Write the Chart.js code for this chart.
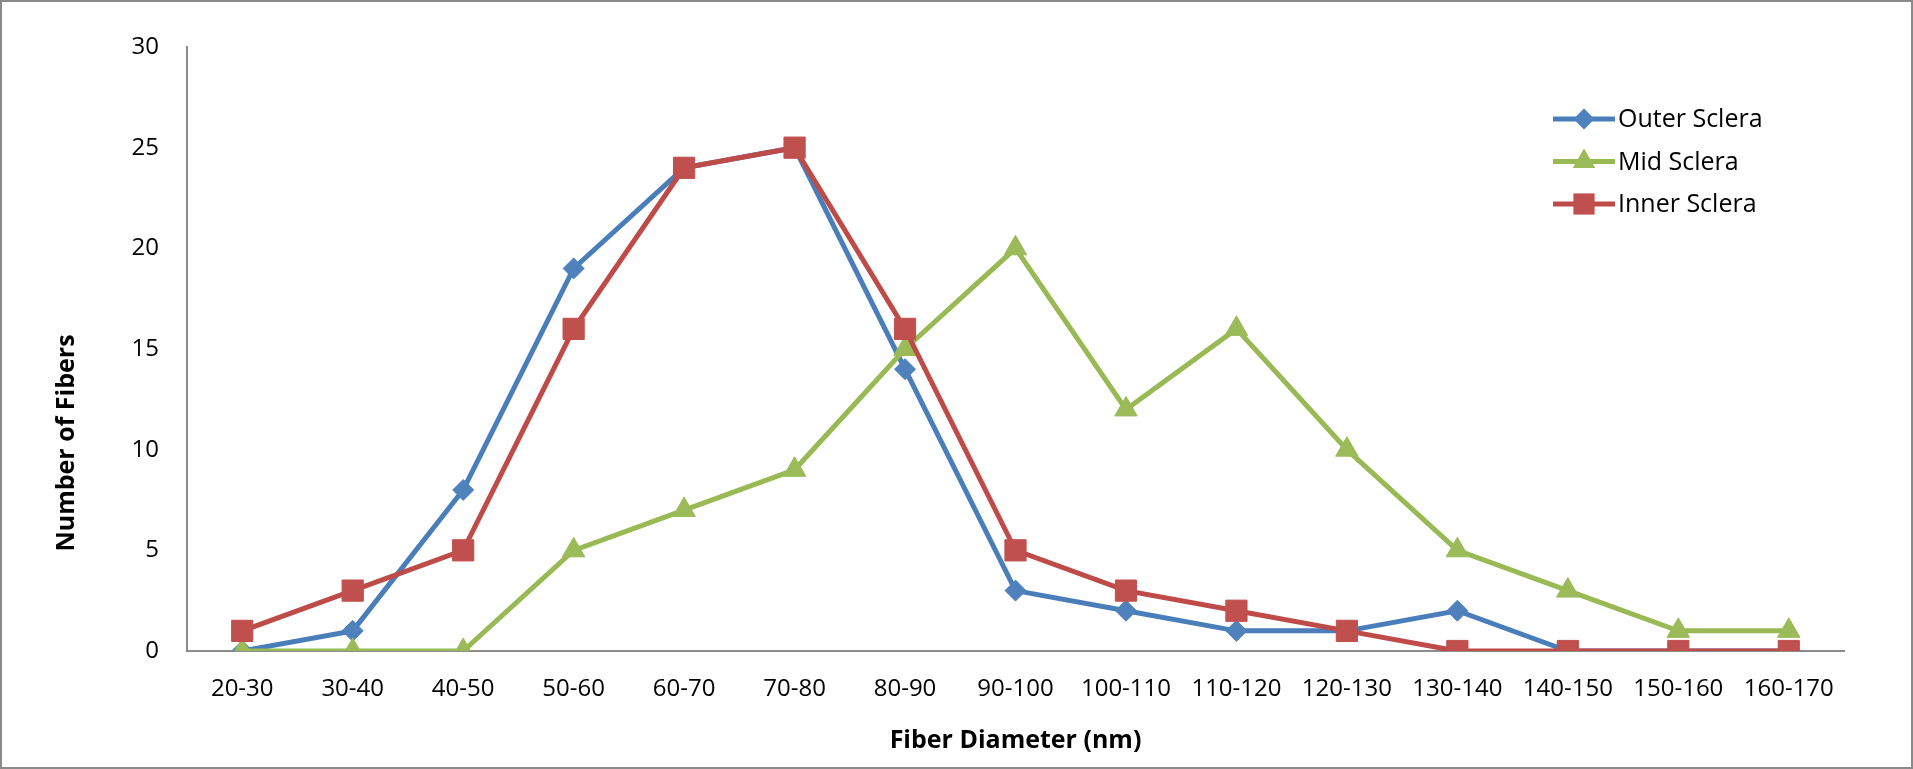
<!DOCTYPE html>
<html>
<head>
<meta charset="utf-8">
<script src="https://cdn.jsdelivr.net/npm/chart.js@4/dist/chart.umd.min.js"></script>
<style>
  html, body { margin: 0; padding: 0; background: #fff; }
  .frame {
    width: 1913px;
    height: 769px;
    box-sizing: border-box;
    border: 2px solid #8a8a8a;
    background: #fff;
  }
  .frame canvas { display: block; }
</style>
</head>
<body>
<div class="frame">
  <canvas id="fibers" width="1909" height="765"></canvas>
</div>
<script>
"use strict";

const diameterBins = [
  "20-30", "30-40", "40-50", "50-60", "60-70", "70-80", "80-90", "90-100",
  "100-110", "110-120", "120-130", "130-140", "140-150", "150-160", "160-170",
];
const outerSclera = [0, 1, 8, 19, 24, 25, 14, 3, 2, 1, 1, 2, 0, 0, 0];
const midSclera = [0, 0, 0, 5, 7, 9, 15, 20, 12, 16, 10, 5, 3, 1, 1];
const innerSclera = [1, 3, 5, 16, 24, 25, 16, 5, 3, 2, 1, 0, 0, 0, 0];
const yTicks = [0, 5, 10, 15, 20, 25, 30];

const FONT = "'Open Sans', 'Liberation Sans', sans-serif";
const AXIS_GREY = "#8c8c8c";

// marker shapes used by the hand drawn legend
function drawMarker(ctx, style, x, y, r) {
  ctx.beginPath();
  if (style === "rectRot") {
    ctx.moveTo(x - r, y);
    ctx.lineTo(x, y - r);
    ctx.lineTo(x + r, y);
    ctx.lineTo(x, y + r);
  } else if (style === "triangle") {
    for (let i = 0; i < 3; i++) {
      let a = (i * 2 * Math.PI) / 3;
      ctx.lineTo(x + Math.sin(a) * r, y - Math.cos(a) * r);
    }
  } else {
    let s = Math.SQRT1_2 * r;
    ctx.rect(x - s, y - s, 2 * s, 2 * s);
  }
  ctx.closePath();
  ctx.fill();
}

const insideLegend = {
  id: "insideLegend",
  afterDraw(chart) {
    const ctx = chart.ctx;
    ctx.save();
    const datasets = chart.data.datasets;
    datasets.forEach((ds, i) => {
      let y = 117 + i * 42.5;
      ctx.strokeStyle = ds.borderColor;
      ctx.lineWidth = ds.borderWidth;
      ctx.beginPath();
      ctx.moveTo(1551, y);
      ctx.lineTo(1613, y);
      ctx.stroke();
      ctx.fillStyle = ds.pointBackgroundColor;
      drawMarker(ctx, ds.pointStyle, 1582, y, ds.pointRadius);
      ctx.fillStyle = "#000";
      ctx.font = `25px ${FONT}`;
      ctx.textBaseline = "middle";
      ctx.textAlign = "left";
      ctx.fillText(ds.label, 1616, y + 1);
    });

    // y axis title sits lower than centre in the original
    ctx.translate(65, 441);
    ctx.rotate(-Math.PI / 2);
    ctx.font = `bold 25px ${FONT}`;
    ctx.fillStyle = "#000";
    ctx.textAlign = "center";
    ctx.textBaseline = "middle";
    ctx.fillText("Number of Fibers", 0, 0);
    ctx.restore();
  },
};

function series(label, data, line, marker, style, radius, order) {
  return {
    label: label,
    data: data,
    borderColor: line,
    backgroundColor: marker,
    pointBackgroundColor: marker,
    pointBorderColor: marker,
    pointBorderWidth: 1,
    pointStyle: style,
    pointRadius: radius,
    pointHoverRadius: radius,
    borderWidth: 5,
    tension: 0,
    fill: false,
    order: order,
  };
}

const ctx = document.getElementById("fibers").getContext("2d");
const fiberChart = new Chart(ctx, {
  type: "line",
  data: {
    labels: diameterBins,
    datasets: [
      series("Outer Sclera", outerSclera, "#4a7ebb", "#4f81bd", "rectRot", 10.5, 2),
      series("Mid Sclera", midSclera, "#98b954", "#9bbb59", "triangle", 13, 1),
      series("Inner Sclera", innerSclera, "#be4b48", "#c0504d", "rect", 15, 0),
    ],
  },
  options: {
    responsive: false,
    animation: false,
    layout: { padding: { top: 45, right: 67, bottom: 0, left: 0 } },
    plugins: {
      legend: { display: false },
      tooltip: { enabled: false },
    },
    scales: {
      x: {
        offset: true,
        grid: { display: false, drawTicks: false },
        border: { display: true, color: AXIS_GREY, width: 2 },
        ticks: {
          color: "#000",
          padding: 24,
          maxRotation: 0,
          autoSkip: false,
          font: { family: FONT, size: 24 },
        },
        title: {
          display: true,
          text: "Fiber Diameter (nm)",
          color: "#000",
          padding: { top: 0, bottom: 11 },
          font: { family: FONT, size: 25, weight: "bold" },
        },
        afterFit: (scale) => {
          scale.height = 116;
        },
      },
      y: {
        min: 0,
        max: 30,
        grid: { display: false, drawTicks: false },
        border: { display: true, color: AXIS_GREY, width: 2 },
        afterBuildTicks: (scale) => {
          scale.ticks = yTicks.map((v) => ({ value: v }));
        },
        ticks: {
          color: "#000",
          padding: 28,
          font: { family: FONT, size: 24 },
        },
        afterFit: (scale) => {
          scale.width = 185;
        },
      },
    },
  },
  plugins: [insideLegend],
});
</script>
</body>
</html>
